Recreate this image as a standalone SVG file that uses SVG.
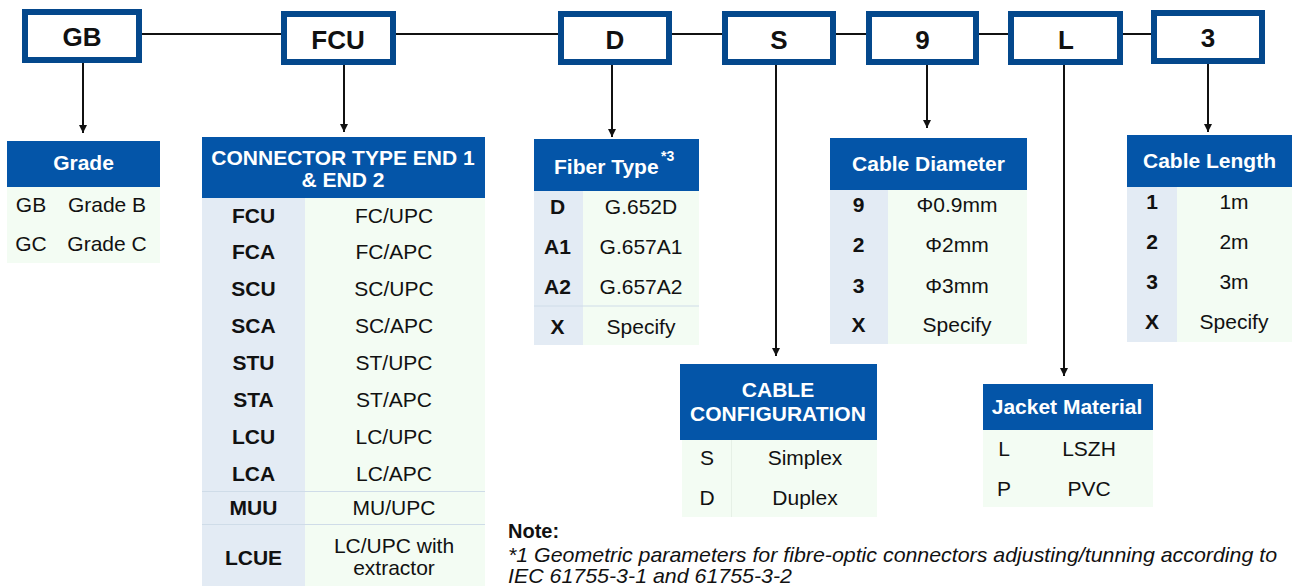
<svg xmlns="http://www.w3.org/2000/svg" width="1292" height="586" viewBox="0 0 1292 586">
<style>
text{font-family:"Liberation Sans",Arial,sans-serif;fill:#111}
.box{fill:#fff;stroke:#04488C;stroke-width:6}
.code{font-size:26px;font-weight:bold;text-anchor:middle}
.hd{fill:#0455A8}
.ht{fill:#fff;font-size:21px;font-weight:bold;text-anchor:middle}
.g{fill:#F3FCF3}
.b{fill:#E3EBF4}
.k{font-size:21px;font-weight:bold;text-anchor:middle}
.v{font-size:21px;text-anchor:middle}
.sep{stroke:#CFDCE8;stroke-width:1}
.ln{stroke:#111;stroke-width:2;fill:none}
.ar{stroke:#111;stroke-width:2;fill:none;marker-end:url(#ah)}
</style>
<defs>
<marker id="ah" markerWidth="10" markerHeight="10" refX="5" refY="8" orient="auto-start-reverse" markerUnits="userSpaceOnUse" viewBox="0 0 10 10">
<path d="M1,0 L9,0 L5,8 Z" fill="#111" transform="rotate(-90 5 5) translate(0,0)"/>
</marker>
<marker id="tip" markerWidth="10" markerHeight="10" refX="8" refY="5" orient="auto" markerUnits="userSpaceOnUse" viewBox="0 0 10 10">
<path d="M0,1 L8,5 L0,9 Z" fill="#111"/>
</marker>
</defs>

<g id="connectors">
<line class="ln" x1="142" y1="34" x2="1151" y2="34"/>
<line class="ln" x1="83" y1="63" x2="83" y2="133" marker-end="url(#tip)"/>
<line class="ln" x1="344" y1="65" x2="344" y2="132" marker-end="url(#tip)"/>
<line class="ln" x1="612" y1="65" x2="612" y2="137" marker-end="url(#tip)"/>
<line class="ln" x1="776" y1="65" x2="776" y2="356" marker-end="url(#tip)"/>
<line class="ln" x1="927" y1="65" x2="927" y2="128" marker-end="url(#tip)"/>
<line class="ln" x1="1064" y1="65" x2="1064" y2="376" marker-end="url(#tip)"/>
<line class="ln" x1="1208" y1="64" x2="1208" y2="132" marker-end="url(#tip)"/>
</g>

<g id="node-gb"><rect class="box" x="25" y="12" width="114" height="48"/><text class="code" x="82" y="45.5">GB</text></g>
<g id="node-fcu"><rect class="box" x="284" y="14" width="109" height="48"/><text class="code" x="338" y="48.5">FCU</text></g>
<g id="node-d"><rect class="box" x="561" y="14" width="108" height="48"/><text class="code" x="615" y="48.5">D</text></g>
<g id="node-s"><rect class="box" x="725" y="14" width="108" height="48"/><text class="code" x="779" y="48.5">S</text></g>
<g id="node-9"><rect class="box" x="869" y="14" width="107" height="48"/><text class="code" x="922.5" y="48.5">9</text></g>
<g id="node-l"><rect class="box" x="1011" y="14" width="109" height="48"/><text class="code" x="1066" y="48.5">L</text></g>
<g id="node-3"><rect class="box" x="1154" y="13" width="108" height="48"/><text class="code" x="1208" y="47">3</text></g>

<g id="table-grade">
<rect class="hd" x="7" y="141" width="153" height="46"/>
<text class="ht" x="83.5" y="170">Grade</text>
<rect class="g" x="7" y="187" width="153" height="76"/>
<text class="v" x="31" y="211.5">GB</text><text class="v" x="107" y="211.5">Grade B</text>
<text class="v" x="31" y="250.5">GC</text><text class="v" x="107" y="250.5">Grade C</text>
</g>

<g id="table-connector">
<rect class="hd" x="202" y="137" width="283" height="61"/>
<text class="ht" x="343" y="164.5">CONNECTOR TYPE END 1</text>
<text class="ht" x="343" y="187">&amp; END 2</text>
<rect class="b" x="202" y="198" width="103" height="388"/>
<rect class="g" x="305" y="198" width="180" height="388"/>
<line class="sep" x1="202" y1="491.5" x2="485" y2="491.5"/>
<line class="sep" x1="202" y1="524.5" x2="485" y2="524.5"/>
<text class="k" x="253.5" y="222.5">FCU</text><text class="v" x="394" y="222.5">FC/UPC</text>
<text class="k" x="253.5" y="259">FCA</text><text class="v" x="394" y="259">FC/APC</text>
<text class="k" x="253.5" y="296">SCU</text><text class="v" x="394" y="296">SC/UPC</text>
<text class="k" x="253.5" y="333">SCA</text><text class="v" x="394" y="333">SC/APC</text>
<text class="k" x="253.5" y="370">STU</text><text class="v" x="394" y="370">ST/UPC</text>
<text class="k" x="253.5" y="407">STA</text><text class="v" x="394" y="407">ST/APC</text>
<text class="k" x="253.5" y="443.5">LCU</text><text class="v" x="394" y="443.5">LC/UPC</text>
<text class="k" x="253.5" y="480.5">LCA</text><text class="v" x="394" y="480.5">LC/APC</text>
<text class="k" x="253.5" y="514.5">MUU</text><text class="v" x="394" y="514.5">MU/UPC</text>
<text class="k" x="253.5" y="565">LCUE</text><text class="v" x="394" y="552.5">LC/UPC with</text><text class="v" x="394" y="575">extractor</text>
</g>

<g id="table-fiber">
<rect class="hd" x="534" y="139" width="165" height="52"/>
<text class="ht" x="554" y="173.5" style="text-anchor:start">Fiber Type</text>
<text x="661" y="161" style="fill:#fff;font-size:14px;font-weight:bold">*3</text>
<rect class="b" x="534" y="191" width="49" height="154"/>
<rect class="g" x="583" y="191" width="116" height="154"/>
<line class="sep" x1="534" y1="306" x2="699" y2="306"/>
<text class="k" x="557.5" y="213.5">D</text><text class="v" x="641" y="213.5">G.652D</text>
<text class="k" x="557.5" y="254">A1</text><text class="v" x="641" y="254">G.657A1</text>
<text class="k" x="557.5" y="294">A2</text><text class="v" x="641" y="294">G.657A2</text>
<text class="k" x="557.5" y="334">X</text><text class="v" x="641" y="334">Specify</text>
</g>

<g id="table-diameter">
<rect class="hd" x="830" y="138" width="197" height="52"/>
<text class="ht" x="928.5" y="171">Cable Diameter</text>
<rect class="b" x="830" y="190" width="58" height="154"/>
<rect class="g" x="888" y="190" width="139" height="154"/>
<text class="k" x="858.5" y="212">9</text><text class="v" x="957" y="212">Φ0.9mm</text>
<text class="k" x="858.5" y="252">2</text><text class="v" x="957" y="252">Φ2mm</text>
<text class="k" x="858.5" y="292.5">3</text><text class="v" x="957" y="292.5">Φ3mm</text>
<text class="k" x="858.5" y="332">X</text><text class="v" x="957" y="332">Specify</text>
</g>

<g id="table-length">
<rect class="hd" x="1127" y="135" width="165" height="52"/>
<text class="ht" x="1209.5" y="167.5">Cable Length</text>
<rect class="b" x="1127" y="187" width="50" height="155"/>
<rect class="g" x="1177" y="187" width="115" height="155"/>
<text class="k" x="1152" y="209">1</text><text class="v" x="1234" y="209">1m</text>
<text class="k" x="1152" y="249">2</text><text class="v" x="1234" y="249">2m</text>
<text class="k" x="1152" y="288.5">3</text><text class="v" x="1234" y="288.5">3m</text>
<text class="k" x="1152" y="329">X</text><text class="v" x="1234" y="329">Specify</text>
</g>

<g id="table-config">
<rect class="hd" x="680" y="364" width="197" height="76"/>
<text class="ht" x="778" y="397">CABLE</text>
<text class="ht" x="778" y="421">CONFIGURATION</text>
<rect class="g" x="682" y="440" width="195" height="77"/>
<line class="sep" x1="731.5" y1="440" x2="731.5" y2="517" style="stroke:#E6F0E6"/>
<text class="v" x="707" y="465">S</text><text class="v" x="805" y="465">Simplex</text>
<text class="v" x="707" y="505">D</text><text class="v" x="805" y="505">Duplex</text>
</g>

<g id="table-jacket">
<rect class="hd" x="983" y="384" width="170" height="46"/>
<text class="ht" x="1067" y="414">Jacket Material</text>
<rect class="g" x="983" y="430" width="170" height="77"/>
<text class="v" x="1004" y="456">L</text><text class="v" x="1089" y="456">LSZH</text>
<text class="v" x="1004" y="496">P</text><text class="v" x="1089" y="496">PVC</text>
</g>

<g id="note">
<text x="508" y="538" style="font-size:20px;font-weight:bold">Note:</text>
<text x="508" y="561.5" style="font-size:21px;font-style:italic" textLength="769" lengthAdjust="spacingAndGlyphs">*1 Geometric parameters for fibre-optic connectors adjusting/tunning according to</text>
<text x="508" y="583" style="font-size:21px;font-style:italic" textLength="284" lengthAdjust="spacingAndGlyphs">IEC 61755-3-1 and 61755-3-2</text>
</g>
</svg>
